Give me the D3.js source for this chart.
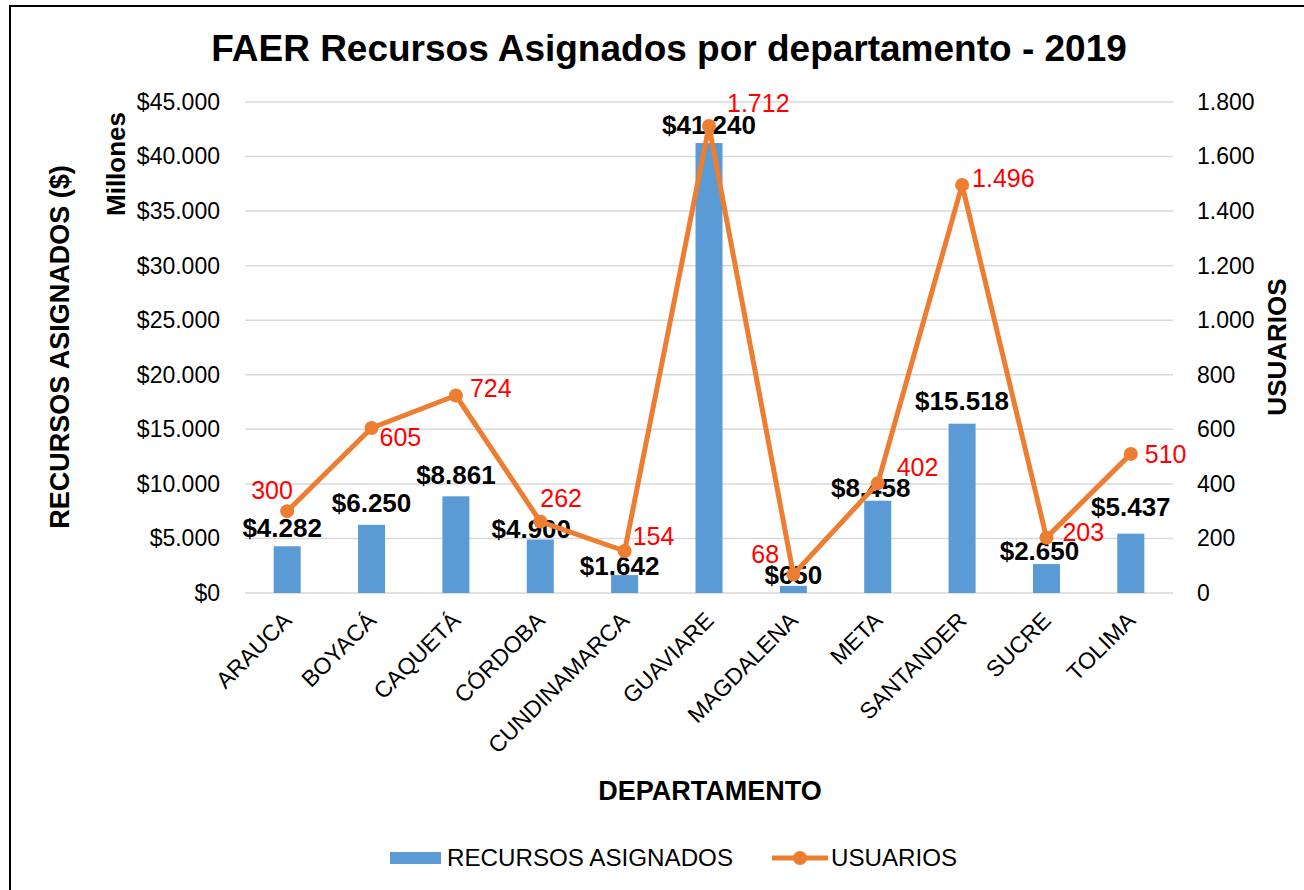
<!DOCTYPE html>
<html>
<head>
<meta charset="utf-8">
<script src="https://cdn.jsdelivr.net/npm/d3@7"></script>
<style>
  body { margin: 0; background: #fff; }
  text { font-family: "Liberation Sans", Arial, sans-serif; }
</style>
</head>
<body>
<div id="chart"></div>
<script>
'use strict'

// data
let departamentos = ["ARAUCA", "BOYACÁ", "CAQUETÁ", "CÓRDOBA", "CUNDINAMARCA", "GUAVIARE", "MAGDALENA", "META", "SANTANDER", "SUCRE", "TOLIMA"]
let recursos = [4282, 6250, 8861, 4900, 1642, 41240, 650, 8458, 15518, 2650, 5437]   // millones
let usuarios = [300, 605, 724, 262, 154, 1712, 68, 402, 1496, 203, 510]
let leftTicks = [0, 5000, 10000, 15000, 20000, 25000, 30000, 35000, 40000, 45000]
let rightTicks = [0, 200, 400, 600, 800, 1000, 1200, 1400, 1600, 1800]

// label nudges (excel moved some labels around the line)
let barLabelNudge = [[-5, -9], [0, -13], [0, -12], [-9, -2], [-5, 0], [0, -9], [0, -2], [-7, -4], [0, -14], [-7, -4], [0, -18]]
let userLabelNudge = [[-36, -21], [8, 9], [14, -7], [0, -23], [8, -15], [18, -23], [-42, -20], [19, -16], [10, -7], [16, -5], [14, 0]]

let width = 1304, height = 890
let margin = {left: 245, right: 131, top: 102, bottom: 297}
let plotW = width - margin.left - margin.right
let plotH = height - margin.top - margin.bottom

let blue = "#5B9BD5", orange = "#ED7D31"

let svg = d3.select("#chart").append("svg")
	.attr("width", width)
	.attr("height", height)

// outer frame (only left and top visible in the picture)
svg.append("rect")
	.attr("x", 10).attr("y", 6)
	.attr("width", 1400).attr("height", 1000)
	.attr("fill", "none").attr("stroke", "#000").attr("stroke-width", 2)

let x = d3.scaleBand().domain(departamentos).range([margin.left, margin.left + plotW]).padding(0)
let yL = d3.scaleLinear().domain([0, 45000]).range([margin.top + plotH, margin.top])
let yR = d3.scaleLinear().domain([0, 1800]).range([margin.top + plotH, margin.top])
let fmt = d3.formatLocale({decimal: ",", thousands: ".", grouping: [3], currency: ["$", ""]})
let money = fmt.format("$,.0f")
let num = fmt.format(",.0f")

// gridlines
svg.append("g").selectAll("line").data(leftTicks).join("line")
	.attr("x1", margin.left).attr("x2", margin.left + plotW)
	.attr("y1", d => yL(d)).attr("y2", d => yL(d))
	.attr("stroke", "#D9D9D9").attr("stroke-width", 1.5)

// left axis
let axL = svg.append("g")
	.attr("transform", "translate(" + (margin.left - 22) + ",0)")
	.call(d3.axisLeft(yL).tickValues(leftTicks).tickFormat(money).tickSize(0))
axL.select(".domain").remove()
axL.selectAll("text").attr("font-size", 23).attr("fill", "#000")
	.style("font-family", "'Liberation Sans', Arial, sans-serif")

// right axis
let axR = svg.append("g")
	.attr("transform", "translate(" + (margin.left + plotW + 24) + ",0)")
	.call(d3.axisRight(yR).tickValues(rightTicks).tickFormat(num).tickSize(0))
axR.select(".domain").remove()
axR.selectAll("text").attr("font-size", 23).attr("fill", "#000").attr("x", 0)
	.style("font-family", "'Liberation Sans', Arial, sans-serif")

// category labels
svg.append("g").selectAll("text").data(departamentos).join("text")
	.attr("transform", d => "translate(" + (x(d) + x.bandwidth() / 2 + 6) + "," + 622 + ") rotate(-45)")
	.attr("text-anchor", "end")
	.attr("font-size", 23)
	.text(d => d)

// bars
let barW = 27
svg.append("g").selectAll("rect").data(recursos).join("rect")
	.attr("x", (d, i) => x(departamentos[i]) + x.bandwidth() / 2 - barW / 2)
	.attr("y", d => yL(d))
	.attr("width", barW)
	.attr("height", d => yL(0) - yL(d))
	.attr("fill", blue)

// bar labels
svg.append("g").selectAll("text").data(recursos).join("text")
	.attr("x", (d, i) => x(departamentos[i]) + x.bandwidth() / 2 + barLabelNudge[i][0])
	.attr("y", (d, i) => yL(d) + barLabelNudge[i][1])
	.attr("text-anchor", "middle")
	.attr("font-size", 26).attr("font-weight", "bold")
	.text(d => money(d))

// users line
let line = d3.line()
	.x((d, i) => x(departamentos[i]) + x.bandwidth() / 2)
	.y(d => yR(d))
svg.append("path").datum(usuarios)
	.attr("d", line)
	.attr("fill", "none").attr("stroke", orange).attr("stroke-width", 5)
	.attr("stroke-linejoin", "round")
svg.append("g").selectAll("circle").data(usuarios).join("circle")
	.attr("cx", (d, i) => x(departamentos[i]) + x.bandwidth() / 2)
	.attr("cy", d => yR(d))
	.attr("r", 7)
	.attr("fill", orange)

// users labels
svg.append("g").selectAll("text").data(usuarios).join("text")
	.attr("x", (d, i) => x(departamentos[i]) + x.bandwidth() / 2 + userLabelNudge[i][0])
	.attr("y", (d, i) => yR(d) + userLabelNudge[i][1])
	.attr("dy", "0.35em")
	.attr("font-size", 25).attr("fill", "#FF0000")
	.text(d => num(d))

// title
svg.append("text")
	.attr("x", 669).attr("y", 61)
	.attr("text-anchor", "middle")
	.attr("font-size", 37).attr("font-weight", "bold")
	.text("FAER Recursos Asignados por departamento - 2019")

// axis titles
svg.append("text")
	.attr("transform", "translate(69,347) rotate(-90)")
	.attr("text-anchor", "middle")
	.attr("font-size", 27).attr("font-weight", "bold")
	.text("RECURSOS ASIGNADOS ($)")
svg.append("text")
	.attr("transform", "translate(125,164) rotate(-90)")
	.attr("text-anchor", "middle")
	.attr("font-size", 26).attr("font-weight", "bold")
	.text("Millones")
svg.append("text")
	.attr("transform", "translate(1286,347) rotate(-90)")
	.attr("text-anchor", "middle")
	.attr("font-size", 26).attr("font-weight", "bold")
	.text("USUARIOS")
svg.append("text")
	.attr("x", 710).attr("y", 800)
	.attr("text-anchor", "middle")
	.attr("font-size", 27).attr("font-weight", "bold")
	.text("DEPARTAMENTO")

// legend
let leg = svg.append("g").attr("transform", "translate(0,858)")
leg.append("rect").attr("x", 390).attr("y", -6).attr("width", 51).attr("height", 12).attr("fill", blue)
leg.append("text").attr("x", 447).attr("y", 0).attr("dy", "0.35em").attr("font-size", 23)
	.attr("textLength", 286).attr("lengthAdjust", "spacingAndGlyphs")
	.text("RECURSOS ASIGNADOS")
leg.append("line").attr("x1", 772).attr("x2", 828).attr("y1", 0).attr("y2", 0)
	.attr("stroke", orange).attr("stroke-width", 5)
leg.append("circle").attr("cx", 800).attr("cy", 0).attr("r", 7).attr("fill", orange)
leg.append("text").attr("x", 831).attr("y", 0).attr("dy", "0.35em").attr("font-size", 23)
	.attr("textLength", 126).attr("lengthAdjust", "spacingAndGlyphs")
	.text("USUARIOS")
</script>
</body>
</html>
